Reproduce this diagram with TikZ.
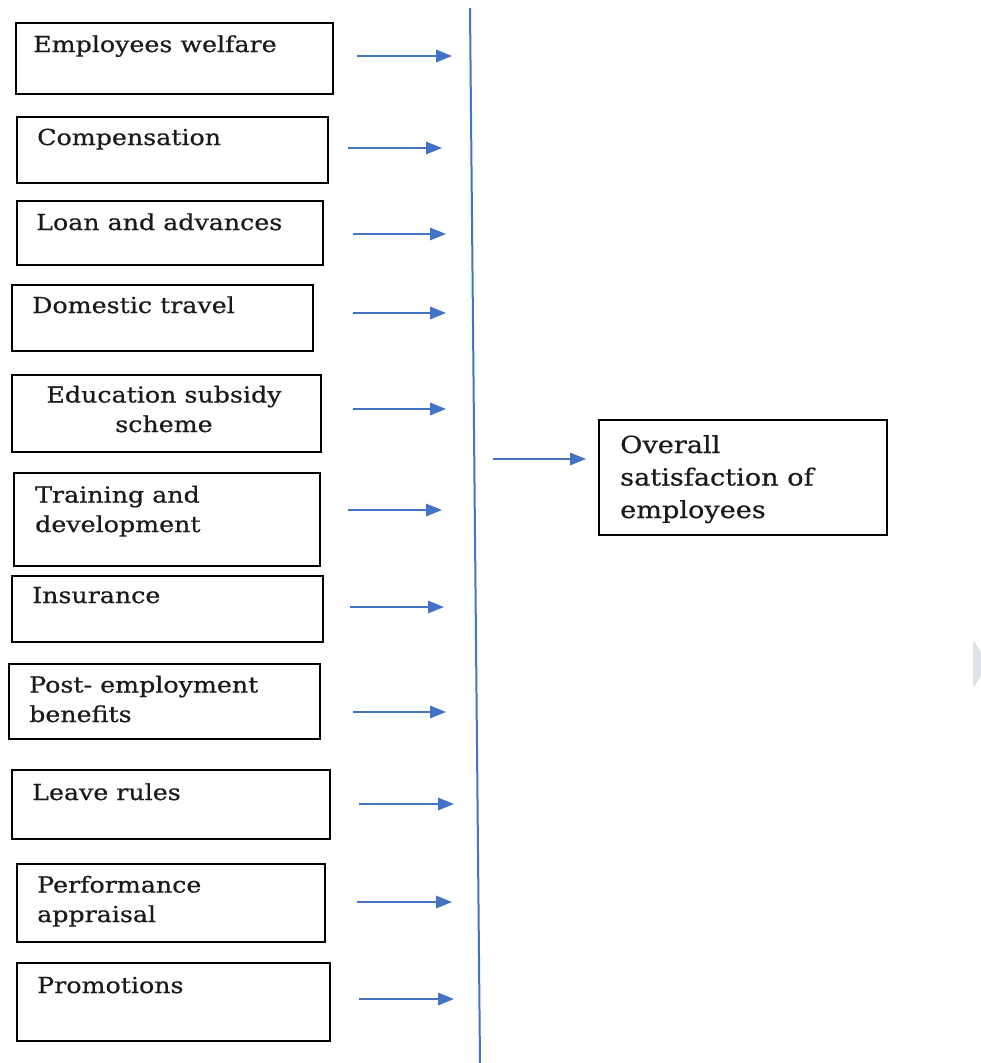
\documentclass[tikz,border=0pt]{standalone}
\usepackage{fontspec}
\setmainfont{DejaVu Serif}
\newfontfamily\widefont[FakeStretch=1.15,FakeBold=0.6]{DejaVu Serif}
\usetikzlibrary{arrows.meta}
\definecolor{arrblue}{HTML}{4472C4}
\definecolor{txt}{HTML}{1A1A1A}
\definecolor{ghost}{HTML}{DDE3E8}
\tikzset{
  boxnode/.style={draw=black, line width=1.6pt, rectangle, inner sep=0pt, anchor=north west},
  lbl/.style={inner sep=0pt, anchor=base west, align=left, text=txt, font={\widefont\fontsize{22}{29.5}\selectfont}},
  biglbl/.style={inner sep=0pt, anchor=base west, align=left, text=txt, font={\widefont\fontsize{23.6}{32.5}\selectfont}},
  arr/.style={draw=arrblue, line width=1.6pt, -{Triangle[length=16pt,width=12.5pt]}},
  vline/.style={draw=arrblue, line width=2pt}
}
\newcommand{\bx}[5]{% name, x1, y1, x2, y2
  \node[boxnode, minimum width={#4-#2}, minimum height={#5-#3}] (#1) at (#2,#3) {};}
\begin{document}
\begin{tikzpicture}[x=1pt,y=-1pt]
\useasboundingbox (0,0) rectangle (981,1063);
% boxes
\bx{b1}{15}{22}{332}{93}
\bx{b2}{16}{116}{327}{182}
\bx{b3}{16}{200}{322}{264}
\bx{b4}{11}{284}{312}{350}
\bx{b5}{11}{374}{320}{451}
\bx{b6}{13}{472}{319}{565}
\bx{b7}{11}{575}{322}{641}
\bx{b8}{8}{663}{319}{738}
\bx{b9}{11}{769}{329}{838}
\bx{b10}{16}{863}{324}{941}
\bx{b11}{16}{962}{329}{1040}
\bx{bo}{598}{419}{886}{534}
% labels (multi-line nodes: base = baseline of last line)
\node[lbl] (t1) at (33,52) {Employees welfare};
\node[lbl] (t2) at (37,145) {Compensation};
\node[lbl] (t3) at (36,230) {Loan and advances};
\node[lbl] (t4) at (32,313) {Domestic travel};
\node[lbl, align=center, anchor=base] (t5) at (164,432) {Education subsidy\\scheme};
\node[lbl] (t6) at (35,532) {Training and\\development};
\node[lbl] (t7) at (32,603) {Insurance};
\node[lbl] (t8) at (29,722) {Post- employment\\benefits};
\node[lbl] (t9) at (32,800) {Leave rules};
\node[lbl] (t10) at (37,922) {Performance\\appraisal};
\node[lbl] (t11) at (37,993) {Promotions};
\node[biglbl] (to) at (620,518) {Overall\\satisfaction of\\employees};
% vertical line
\coordinate (vtop) at (470,8);
\coordinate (vbot) at (480,1063);
\draw[vline] (vtop) -- (vbot);
% arrows
\foreach \n/\xa/\xb/\y in {1/357/452/56, 2/348/442/148, 3/353/446/234, 4/353/446/313,
  5/353/446/409, 6/348/442/510, 7/350/444/607, 8/353/446/712, 9/359/454/804,
  10/357/452/902, 11/359/454/999, o/493/586/459}{
  \coordinate (s\n) at (\xa,\y);
  \coordinate (e\n) at (\xb,\y);
  \draw[arr] (s\n) -- (e\n);
}
% faint shape at right edge
\fill[ghost] (973,640) -- (981,652) -- (981,676) -- (973,688) -- cycle;
\end{tikzpicture}
\end{document}
